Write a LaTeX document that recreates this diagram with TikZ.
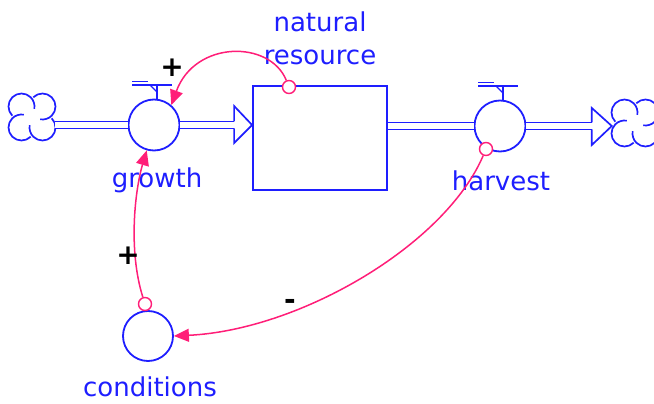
\documentclass[tikz,border=0pt]{standalone}
\usepackage{fontspec}
\setmainfont{DejaVu Sans}
\usetikzlibrary{arrows.meta,calc}
\definecolor{vblue}{RGB}{30,30,255}
\definecolor{vpink}{RGB}{255,30,120}
\begin{document}
\begin{tikzpicture}[x=1pt,y=-1pt,
  flow/.style={draw=vblue, line width=1.7pt, double=white, double distance=5.3pt},
  valve/.style={circle, draw=vblue, line width=1.8pt, minimum size=51pt, inner sep=0pt, fill=white},
  stockbox/.style={draw=vblue, line width=1.8pt, minimum width=134pt, minimum height=104pt, inner sep=0pt},
  cloudnode/.style={circle, minimum size=46pt, inner sep=0pt},
  lbl/.style={text=vblue, font=\fontsize{26}{33}\selectfont, align=center},
  link/.style={draw=vpink, line width=1.5pt, -{Triangle[length=15pt,width=13pt]}},
  tailc/.style={circle, draw=vpink, line width=1.4pt, minimum size=13pt, inner sep=0pt, fill=white},
  pol/.style={font=\bfseries\fontsize{28}{28}\selectfont, text=black},
  headline/.style={draw=vblue, line width=1.7pt},
  cloudpic/.pic={
    \draw[vblue, line width=1.7pt]
      (-10.5,-10.5) ++(135:13) arc[start angle=135, end angle=370, radius=13]
      (10.5,-10.5) ++(225:13) arc[start angle=225, end angle=460, radius=13]
      (10.5,10.5) ++(315:13) arc[start angle=315, end angle=550, radius=13]
      (-10.5,10.5) ++(45:13) arc[start angle=45, end angle=280, radius=13];
  },
  handlepic/.pic={
    \draw[vblue, line width=1.7pt] (-22,-40) -- (18,-40);
    \draw[vblue, line width=1.5pt] (-22,-43.5) -- (-6,-43.5);
    \draw[vblue, line width=1.7pt] (3,-40) -- (3,-26);
    \draw[vblue, line width=1.2pt] (-4,-40) -- (3,-33);
  }]
\useasboundingbox (0,0) rectangle (654,404);

% clouds
\node[cloudnode] (cloudL) at (32,117) {};
\pic at (32,117) {cloudpic};
\node[cloudnode] (cloudR) at (635,123) {};
\pic at (635,123) {cloudpic};

% stock
\node[stockbox] (stock) at (320,138) {};

% valves
\node[valve] (growth) at (154,125) {};
\pic at (154,125) {handlepic};
\node[valve] (harvest) at (500,126) {};
\pic at (500,126) {handlepic};

% pipes
\draw[flow] (cloudL.east |- growth) -- (growth.west);
\coordinate (g2s) at (stock.west |- growth);
\draw[flow, shorten >=18pt] (growth.east) -- (g2s);
\draw[headline, fill=white] ($(g2s)+(-18,-3.5)$) -- ($(g2s)+(-18,-19)$) -- (g2s) -- ($(g2s)+(-18,18)$) -- ($(g2s)+(-18,3.5)$);

\draw[flow] (stock.east |- harvest) -- (harvest.west);
\coordinate (h2c) at (cloudR.west |- harvest);
\draw[flow, shorten >=20pt] (harvest.east) -- (h2c);
\draw[headline] ($(h2c)+(-20,-3.5)$) -- ($(h2c)+(-20,-18)$) -- (h2c) -- ($(h2c)+(-20,19)$) -- ($(h2c)+(-20,3.5)$);

% conditions
\node[valve, minimum size=50pt] (cond) at (148,336) {};

% labels
\node[lbl] (lgrowth) at (157,180) {growth};
\node[lbl] (lharvest) at (501,181) {harvest};
\node[lbl] (lstock) at (320,38) {natural\\resource};
\node[lbl] (lcond) at (150,387) {conditions};

% link tails
\node[tailc] (nrtail) at (289,87) {};
\node[tailc] (hvtail) at (486,149) {};
\node[tailc] (cdtail) at (145,304) {};

% links
\draw[link] (nrtail) .. controls (270,40) and (195,40) .. (growth.49);
\draw[link] (cdtail) .. controls (128,250) and (135,190) .. (growth.254);
\draw[link] (hvtail) .. controls (445,245) and (300,330) .. (cond.east);

% polarities
\node[pol] (p1) at (172,68) {+};
\node[pol] (p2) at (128,256) {+};
\node[pol] (p3) at (290,304) {-};
\end{tikzpicture}
\end{document}
